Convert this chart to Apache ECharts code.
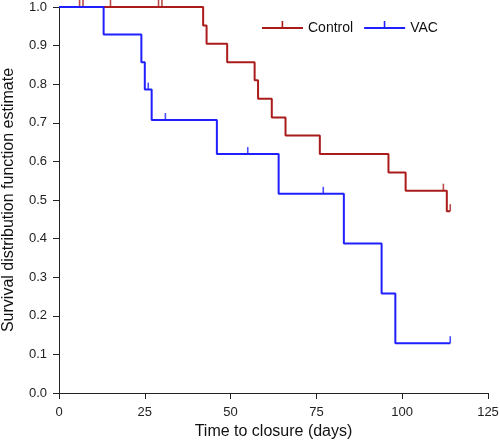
<!DOCTYPE html>
<html><head><meta charset="utf-8">
<script src="https://cdn.jsdelivr.net/npm/echarts@6/dist/echarts.min.js"></script>
<style>html,body{margin:0;padding:0;background:#fff}#c{width:500px;height:446px}</style>
</head><body><div id="c"></div>
<script>
var controlSteps = [[0,1],[42,0.952],[43,0.905],[49,0.857],[57,0.810],[58,0.762],[62,0.714],[66,0.667],[76,0.619],[96,0.571],[101,0.524],[113,0.471],[114,0.471]];
var controlCensored = [[6,1],[7,1],[15,1],[29,1],[30,1],[112,0.524],[114,0.471]];
var vacSteps = [[0,1],[13,0.929],[24,0.857],[25,0.786],[27,0.707],[46,0.619],[64,0.516],[83,0.387],[94,0.258],[98,0.129],[114,0.129]];
var vacCensored = [[26,0.786],[31,0.707],[55,0.619],[77,0.516],[114,0.129]];
var xTicks = [0,25,50,75,100,125];
var yTicks = ['0.0','0.1','0.2','0.3','0.4','0.5','0.6','0.7','0.8','0.9','1.0'];
var seriesNames = ['Control','VAC'];

var RED = '#aa1c1c', BLUE = '#1f1fff', FONT = 'Liberation Sans, Arial, sans-serif';
var icon = 'path://M0,0h0.01v0.01h-0.01z M0,7.1h41v1.8h-41z M19.6,1h1.6v6.2h-1.6z M0,15.99h0.01v0.01h-0.01z';
var chart = echarts.init(document.getElementById('c'));
chart.setOption({
  animation: false,
  grid: {left: 59, right: 12, top: 7, bottom: 53, outerBoundsMode: 'none', containLabel: false},
  legend: {
    data: [{name: seriesNames[0], icon: icon}, {name: seriesNames[1], icon: icon}],
    left: 257, top: 15, itemWidth: 41, itemHeight: 16, itemGap: 11,
    textStyle: {fontFamily: FONT, fontSize: 14, color: '#111'}
  },
  xAxis: {
    type: 'value', min: xTicks[0], max: xTicks[xTicks.length-1], interval: 25,
    name: 'Time to closure (days)', nameLocation: 'middle', nameGap: 26,
    nameTextStyle: {fontFamily: FONT, fontSize: 16, color: '#111'},
    axisLine: {show: true, lineStyle: {color: '#222', width: 1}},
    axisTick: {show: true, length: 6, lineStyle: {color: '#222'}},
    axisLabel: {fontFamily: FONT, fontSize: 13, color: '#222', margin: 13},
    splitLine: {show: false}
  },
  yAxis: {
    type: 'value', min: 0, max: 1, interval: 0.1,
    name: 'Survival distribution function estimate', nameLocation: 'middle', nameGap: 42,
    nameTextStyle: {fontFamily: FONT, fontSize: 16, color: '#111'},
    axisLine: {show: true, lineStyle: {color: '#222', width: 1}},
    axisTick: {show: true, length: 6, lineStyle: {color: '#222'}},
    axisLabel: {fontFamily: FONT, fontSize: 13, color: '#222', margin: 12,
      formatter: function(v){ return yTicks[Math.round(v*10)]; }},
    splitLine: {show: false}
  },
  series: [
    {name: seriesNames[0], type: 'line', step: 'end', data: controlSteps, showSymbol: false,
     symbol: 'none', lineStyle: {color: RED, width: 2}, itemStyle: {color: RED}, z: 2},
    {name: seriesNames[0] + ' censored', type: 'scatter', data: controlCensored, symbol: 'rect',
     symbolSize: [1.6, 7], symbolOffset: [0, -3.5], itemStyle: {color: RED}, z: 2},
    {name: seriesNames[1], type: 'line', step: 'end', data: vacSteps, showSymbol: false,
     symbol: 'none', lineStyle: {color: BLUE, width: 2}, itemStyle: {color: BLUE}, z: 3},
    {name: seriesNames[1] + ' censored', type: 'scatter', data: vacCensored, symbol: 'rect',
     symbolSize: [1.6, 7], symbolOffset: [0, -3.5], itemStyle: {color: BLUE}, z: 3}
  ]
});
</script></body></html>
